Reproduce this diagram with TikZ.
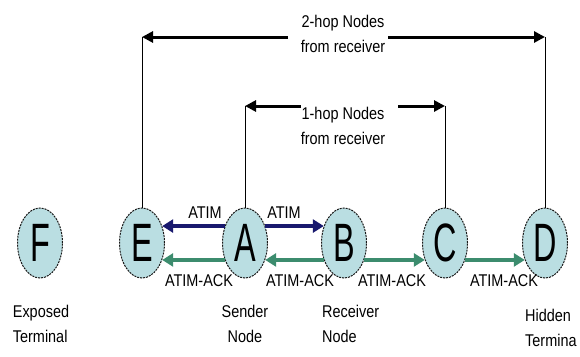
\documentclass[tikz,border=0pt]{standalone}
\usepackage{fontspec}
\setmainfont{Liberation Sans}[FakeStretch=0.85]
\newfontfamily\letterfont{Liberation Sans}[FakeStretch=0.6]
\usetikzlibrary{shapes.geometric,arrows.meta}
\definecolor{nodefill}{RGB}{186,222,226}
\definecolor{atimblue}{RGB}{25,25,110}
\definecolor{ackgreen}{RGB}{60,140,110}
\begin{document}
\begin{tikzpicture}[x=1pt,y=-1pt,
  station/.style={ellipse, draw=black!90, dash pattern=on 2pt off 1pt, line width=1pt,
    fill=nodefill, minimum width=45pt, minimum height=70pt, inner sep=0pt,
    font=\letterfont\fontsize{54}{54}\selectfont},
  lbl/.style={font=\fontsize{17}{25}\selectfont, inner sep=1pt},
  atim/.style={draw=atimblue, line width=3.5pt, -{Triangle[length=11pt,width=13pt]}},
  ack/.style={draw=ackgreen, line width=3.5pt, -{Triangle[length=11pt,width=13pt]}},
  hoparrow/.style={draw=black, line width=3pt, -{Triangle[length=11pt,width=11pt]}},
  tick/.style={draw=black, line width=1pt}]
\useasboundingbox (0,0) rectangle (580,356);

% stations
\node[station] (F) at (40,243) {F};
\node[station] (E) at (142,243) {E};
\node[station] (A) at (245,243) {A};
\node[station] (B) at (344,243) {B};
\node[station] (C) at (445,243) {C};
\node[station] (D) at (545,243) {D};

% range labels
\node[lbl, align=center] (t2) at (343,34) {2-hop Nodes\\from receiver};
\node[lbl, align=center] (t1) at (343,126) {1-hop Nodes\\from receiver};

% 2-hop bracket
\coordinate (c2L) at (142,37);
\coordinate (c2R) at (547,37);
\coordinate (c2a) at (288,37);
\coordinate (c2b) at (388,37);
\draw[tick] (E.north) -- (E.north |- c2L);
\draw[tick] (D.north) -- (D.north |- c2R);
\draw[hoparrow] (c2a) -- (E.north |- c2L);
\draw[hoparrow] (c2b) -- (D.north |- c2R);

% 1-hop bracket
\coordinate (c1L) at (245,106);
\coordinate (c1R) at (445,106);
\coordinate (c1a) at (301,106);
\coordinate (c1b) at (398,106);
\draw[tick] (A.north) -- (A.north |- c1L);
\draw[tick] (C.north) -- (C.north |- c1R);
\draw[hoparrow] (c1a) -- (A.north |- c1L);
\draw[hoparrow] (c1b) -- (C.north |- c1R);

% ATIM
\draw[atim] (A.140) -- (E.40);
\draw[atim] (A.40) -- (B.140);
\node[lbl] (l1) at (205,213) {ATIM};
\node[lbl] (l2) at (284,213) {ATIM};

% ATIM-ACK
\draw[ack] (A.220) -- (E.320);
\draw[ack] (B.220) -- (A.320);
\draw[ack] (B.320) -- (C.220);
\draw[ack] (C.320) -- (D.220);
\node[lbl] (k1) at (199,281) {ATIM-ACK};
\node[lbl] (k2) at (300,281) {ATIM-ACK};
\node[lbl] (k3) at (392,281) {ATIM-ACK};
\node[lbl] (k4) at (504,281) {ATIM-ACK};

% captions
\node[lbl, align=left] (capF) at (41,324) {Exposed\\Terminal};
\node[lbl, align=center] (capA) at (245,324) {Sender\\Node};
\node[lbl, align=left, anchor=west] (capB) at (321,324) {Receiver\\Node};
\node[lbl, align=left, anchor=west] (capD) at (524,328) {Hidden\\Termina};
\end{tikzpicture}
\end{document}
